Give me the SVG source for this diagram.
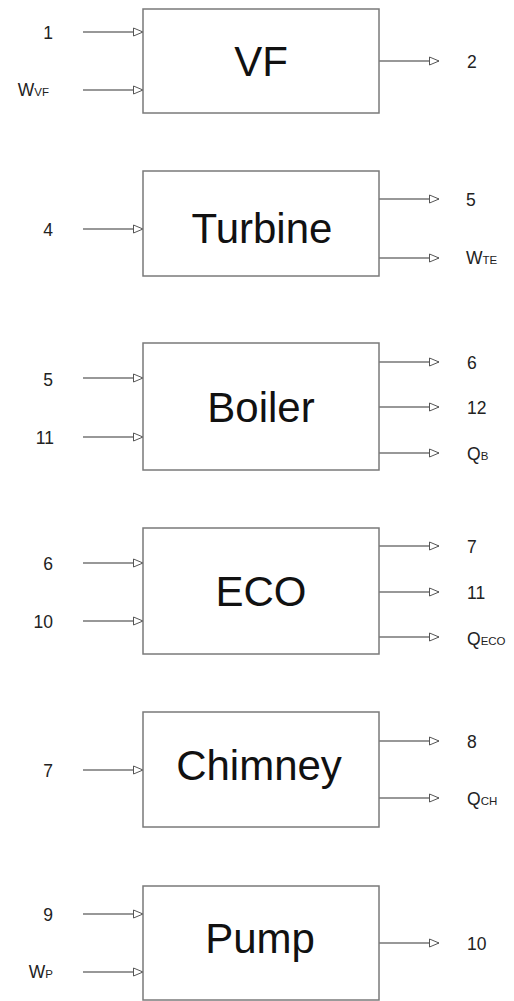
<svg xmlns="http://www.w3.org/2000/svg" width="514" height="1001" viewBox="0 0 514 1001">
<style>
.box{fill:#fff;stroke:#7a7a7a;stroke-width:1.5}
.title{font-family:"Liberation Sans",Arial,sans-serif;font-size:42px;fill:#111;text-anchor:middle}
.lbl{font-family:"Liberation Sans",Arial,sans-serif;font-size:17.5px;fill:#222}
.l{text-anchor:end}
.sub{font-size:11.5px}
.c{stroke:#333;stroke-width:1.2;fill:none;marker-end:url(#arr)}
</style>
<defs>
<marker id="arr" markerUnits="userSpaceOnUse" markerWidth="12" markerHeight="12" refX="10" refY="5" orient="auto">
<path d="M0.5,1 L10,5 L0.5,9 Z" fill="#fff" stroke="#555" stroke-width="1"/>
</marker>
</defs>
<rect width="514" height="1001" fill="#fff"/>
<g id="connectors">
<line class="c" x1="83" y1="32" x2="143" y2="32"/>
<line class="c" x1="83" y1="90" x2="143" y2="90"/>
<line class="c" x1="379" y1="61" x2="439" y2="61"/>
<line class="c" x1="83" y1="229" x2="143" y2="229"/>
<line class="c" x1="379" y1="199" x2="439" y2="199"/>
<line class="c" x1="379" y1="258" x2="439" y2="258"/>
<line class="c" x1="83" y1="378" x2="143" y2="378"/>
<line class="c" x1="83" y1="437" x2="143" y2="437"/>
<line class="c" x1="379" y1="362" x2="439" y2="362"/>
<line class="c" x1="379" y1="407" x2="439" y2="407"/>
<line class="c" x1="379" y1="453" x2="439" y2="453"/>
<line class="c" x1="83" y1="563" x2="143" y2="563"/>
<line class="c" x1="83" y1="621" x2="143" y2="621"/>
<line class="c" x1="379" y1="546" x2="439" y2="546"/>
<line class="c" x1="379" y1="592" x2="439" y2="592"/>
<line class="c" x1="379" y1="637" x2="439" y2="637"/>
<line class="c" x1="83" y1="770" x2="143" y2="770"/>
<line class="c" x1="379" y1="741" x2="439" y2="741"/>
<line class="c" x1="379" y1="798" x2="439" y2="798"/>
<line class="c" x1="83" y1="914" x2="143" y2="914"/>
<line class="c" x1="83" y1="972" x2="143" y2="972"/>
<line class="c" x1="379" y1="943" x2="439" y2="943"/>
</g>
<g id="vf">
<rect class="box" x="143" y="9" width="236" height="104"/>
<text class="title" x="261" y="76">VF</text>
<text class="lbl l" x="53" y="39">1</text>
<text class="lbl l" x="49" y="96">W<tspan class="sub">VF</tspan></text>
<text class="lbl" x="467" y="68">2</text>
</g>
<g id="turbine">
<rect class="box" x="143" y="171" width="236" height="105"/>
<text class="title" x="262" y="243">Turbine</text>
<text class="lbl l" x="53" y="236">4</text>
<text class="lbl" x="466" y="206">5</text>
<text class="lbl" x="466" y="264">W<tspan class="sub">TE</tspan></text>
</g>
<g id="boiler">
<rect class="box" x="143" y="343" width="236" height="127"/>
<text class="title" x="261" y="422">Boiler</text>
<text class="lbl l" x="53" y="386">5</text>
<text class="lbl l" x="54" y="444">11</text>
<text class="lbl" x="467" y="369">6</text>
<text class="lbl" x="467" y="414">12</text>
<text class="lbl" x="467" y="460">Q<tspan class="sub">B</tspan></text>
</g>
<g id="eco">
<rect class="box" x="143" y="528" width="236" height="126"/>
<text class="title" x="261" y="606">ECO</text>
<text class="lbl l" x="53" y="570">6</text>
<text class="lbl l" x="53" y="628">10</text>
<text class="lbl" x="467" y="553">7</text>
<text class="lbl" x="467" y="599">11</text>
<text class="lbl" x="467" y="645">Q<tspan class="sub">ECO</tspan></text>
</g>
<g id="chimney">
<rect class="box" x="143" y="712" width="236" height="115"/>
<text class="title" x="259" y="780">Chimney</text>
<text class="lbl l" x="53" y="777">7</text>
<text class="lbl" x="467" y="748">8</text>
<text class="lbl" x="467" y="805">Q<tspan class="sub">CH</tspan></text>
</g>
<g id="pump">
<rect class="box" x="143" y="886" width="236" height="114"/>
<text class="title" x="260" y="953">Pump</text>
<text class="lbl l" x="53" y="921">9</text>
<text class="lbl l" x="53" y="978">W<tspan class="sub">P</tspan></text>
<text class="lbl" x="467" y="950">10</text>
</g>
</svg>
